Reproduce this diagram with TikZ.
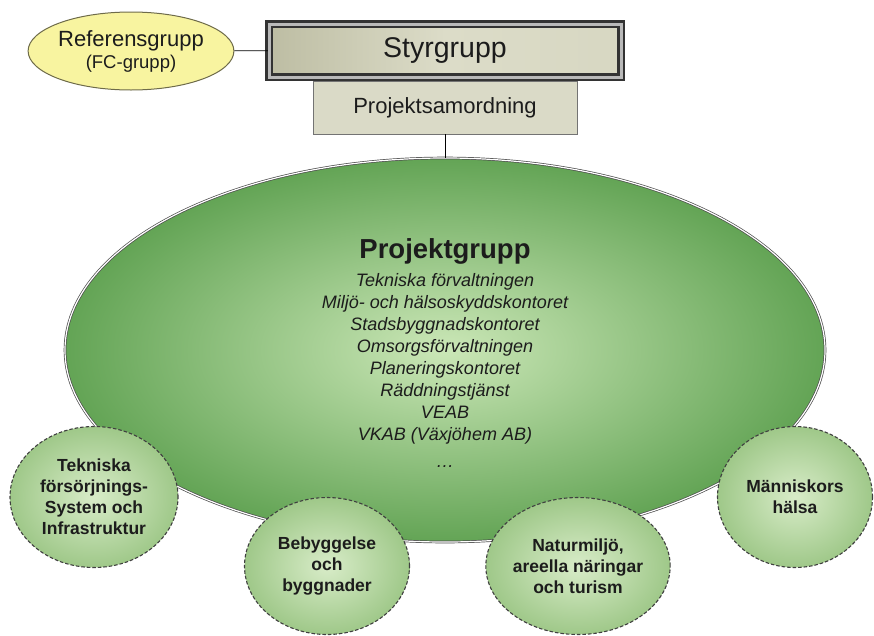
\documentclass[tikz,border=0pt]{standalone}
\usepackage{fontspec}
\setmainfont{Liberation Sans}
\usetikzlibrary{shapes.geometric}
\definecolor{RefYellow}{HTML}{F8F4A0}
\definecolor{RefEdge}{HTML}{6E6B4A}
\definecolor{StyDark}{HTML}{BDBDA3}
\definecolor{StyLight}{HTML}{DCDCC8}
\definecolor{SamFill}{HTML}{DADAC7}
\definecolor{BigOut}{HTML}{63A455}
\definecolor{BigIn}{HTML}{CBE7B7}
\definecolor{SmallOut}{HTML}{9FC889}
\definecolor{SmallIn}{HTML}{D8ECC8}
\definecolor{InkGray}{HTML}{1C1C1C}

\begin{document}
\begin{tikzpicture}[x=1pt,y=-1pt,
  area/.style={ellipse,draw=black!75,line width=1.1pt,dash pattern=on 3.5pt off 2pt,
    inner color=SmallIn,outer color=SmallOut,align=center,text=InkGray,inner sep=0pt,
    font=\fontsize{17.5}{21}\selectfont\bfseries},
  member/.style={anchor=base,text=InkGray,font=\fontsize{18}{20}\selectfont\itshape}]
\useasboundingbox (0,0) rectangle (874,635);

\node[ellipse,draw=RefEdge,line width=1pt,fill=RefYellow,minimum width=197pt,minimum height=78pt,
  inner sep=0pt,align=center,text=InkGray,font=\fontsize{22}{25}\selectfont] (refgrp) at (131,51)
  {Referensgrupp\\[-3pt]{\fontsize{18.5}{21}\selectfont(FC-grupp)}};
\node[rectangle,draw=black!55,line width=0.8pt,fill=SamFill,minimum width=264pt,minimum height=53pt,
  text=InkGray,font=\fontsize{22}{25}\selectfont] (samord) at (445,107.5) {Projektsamordning};
\node[rectangle,draw=black!80,line width=2.5pt,double=gray!55,double distance=3pt,
  left color=StyDark,right color=StyLight!85!StyDark,middle color=StyLight,
  minimum width=352pt,minimum height=53pt,text=InkGray,font=\fontsize{28.5}{31}\selectfont] (styr) at (445,50.5) {Styrgrupp};
\draw[line width=0.8pt] (refgrp) -- (styr);

\node[ellipse,draw=black!70,line width=0.7pt,double=white,double distance=1.2pt,
  inner color=BigIn,outer color=BigOut,minimum width=760pt,minimum height=384pt] (projgrp) at (445,350) {};
\draw[line width=0.8pt] (samord) -- (projgrp);
\node[anchor=base,text=InkGray,font=\fontsize{27.5}{30}\selectfont\bfseries] (pgtitle) at (445,258) {Projektgrupp};
\foreach \lab [count=\i] in {Tekniska förvaltningen,Miljö- och hälsoskyddskontoret,Stadsbyggnadskontoret,
  Omsorgsförvaltningen,Planeringskontoret,Räddningstjänst,VEAB,VKAB (Växjöhem AB)}{
  \node[member] (line\i) at (445,{286+22*(\i-1)}) {\lab};
}
\node[member] (moredots) at (445,467) {\dots};

\node[area,minimum width=168pt,minimum height=141pt] (teknik) at (94,497)
  {Tekniska\\försörjnings-\\System och\\Infrastruktur};
\node[area,minimum width=165pt,minimum height=137pt] (bebygg) at (327,566)
  {Bebyggelse\\och\\byggnader};
\node[area,minimum width=167pt,minimum height=137pt] (natur) at (578,566)
  {Naturmiljö,\\areella näringar\\och turism};
\node[area,minimum width=155pt,minimum height=141pt] (halsa) at (795,497)
  {Människors\\hälsa};
\end{tikzpicture}
\end{document}
